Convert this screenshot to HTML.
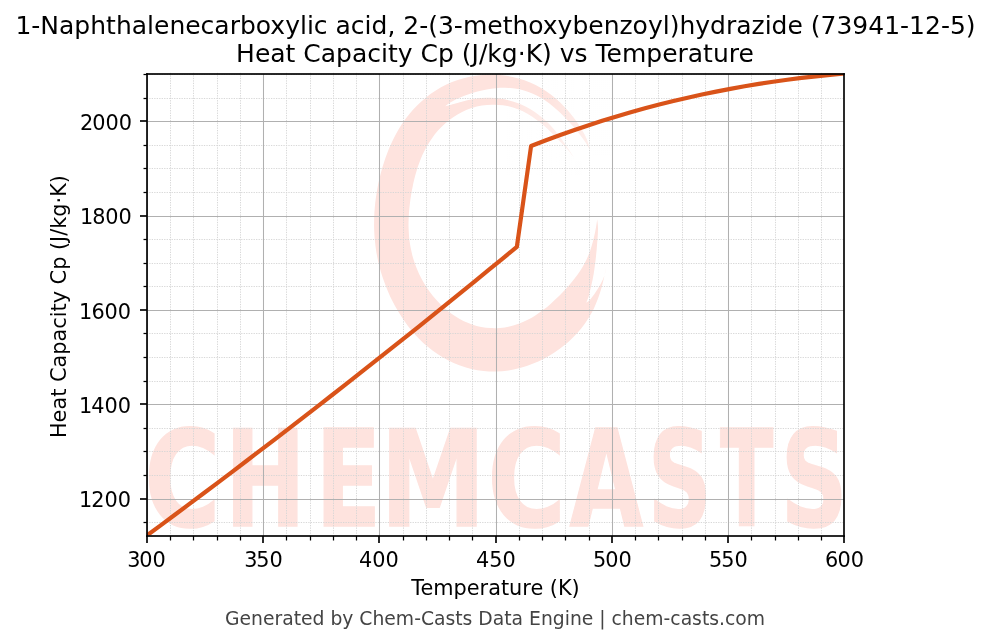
<!DOCTYPE html>
<html lang="en"><head><meta charset="utf-8">
<title>1-Naphthalenecarboxylic acid, 2-(3-methoxybenzoyl)hydrazide (73941-12-5) - Heat Capacity Cp vs Temperature</title>
<style>
html,body{margin:0;padding:0;background:#fff;}
body{width:991px;height:644px;overflow:hidden;}
svg{display:block;}
text{font-family:"DejaVu Sans","Liberation Sans",sans-serif;fill:#000;}
.t12{font-size:25px;}
.t10{font-size:20.8333px;}
.t9{font-size:18.75px;fill:#444;}
.wm{font-family:"DejaVu Sans","Liberation Sans",sans-serif;font-weight:bold;}
</style></head><body>
<svg width="991" height="644" viewBox="0 0 991 644">
<rect x="0" y="0" width="991" height="644" fill="#fff"/>
<clipPath id="axclip"><rect x="146.75" y="73.58" width="697.5" height="462"/></clipPath>
<filter id="soft" x="-5%" y="-5%" width="110%" height="110%"><feGaussianBlur stdDeviation="0.6"/></filter>
<g clip-path="url(#axclip)"><g filter="url(#soft)"><defs><linearGradient id="wg1" gradientUnits="userSpaceOnUse" x1="545" y1="0" x2="592" y2="0"><stop offset="0" stop-color="#fff" stop-opacity="0"/><stop offset="1" stop-color="#fff" stop-opacity="0.45"/></linearGradient><linearGradient id="wg2" gradientUnits="userSpaceOnUse" x1="505" y1="0" x2="575" y2="0"><stop offset="0" stop-color="#fff" stop-opacity="0"/><stop offset="0.35" stop-color="#fff" stop-opacity="0.25"/><stop offset="1" stop-color="#fff" stop-opacity="0.5"/></linearGradient></defs><path d="M590.0 150.0L590.0 150.0C589.5 148.2 588.2 142.7 586.9 139.2C585.5 135.8 583.6 132.6 581.7 129.4C579.8 126.2 577.7 123.1 575.5 120.0C573.2 116.9 570.9 113.9 568.3 110.9C565.8 108.0 563.1 105.1 560.2 102.4C557.3 99.7 554.3 97.1 551.1 94.7C547.9 92.3 544.5 90.1 541.0 88.0C537.5 86.0 533.8 84.2 530.1 82.6C526.4 81.0 522.5 79.6 518.6 78.5C514.6 77.4 510.6 76.5 506.5 75.8C502.5 75.2 498.4 74.8 494.3 74.6C490.2 74.5 486.0 74.6 481.9 74.9C477.8 75.2 473.7 75.8 469.7 76.7C465.7 77.5 461.7 78.6 457.8 79.9C453.9 81.2 450.1 82.7 446.4 84.5C442.8 86.2 439.2 88.2 435.8 90.4C432.4 92.5 429.1 94.9 426.0 97.4C422.8 99.9 419.9 102.6 417.1 105.4C414.3 108.2 411.6 111.2 409.2 114.2C406.7 117.2 404.4 120.4 402.3 123.5C400.2 126.7 398.2 130.0 396.4 133.3C394.6 136.5 392.9 139.9 391.4 143.2C389.8 146.5 388.4 149.9 387.2 153.2C385.9 156.6 384.7 159.9 383.7 163.3C382.6 166.6 381.6 169.9 380.8 173.3C379.9 176.6 379.1 179.9 378.4 183.2C377.7 186.5 377.1 189.8 376.6 193.1C376.1 196.4 375.6 199.7 375.2 203.0C374.9 206.3 374.6 209.5 374.4 212.8C374.2 216.1 374.1 219.4 374.1 222.7C374.0 226.0 374.1 229.3 374.3 232.6C374.4 235.9 374.7 239.2 375.1 242.5C375.4 245.8 375.9 249.1 376.4 252.4C377.0 255.7 377.7 259.0 378.4 262.3C379.2 265.6 380.1 268.9 381.0 272.2C382.0 275.5 383.1 278.8 384.3 282.1C385.5 285.4 386.8 288.7 388.2 291.9C389.6 295.2 391.1 298.4 392.8 301.7C394.4 304.9 396.2 308.1 398.1 311.3C400.0 314.5 402.0 317.7 404.2 320.8C406.4 323.9 408.7 327.0 411.1 329.9C413.6 332.9 416.2 335.9 419.0 338.7C421.8 341.5 424.7 344.2 427.8 346.8C430.8 349.4 434.1 351.8 437.5 354.1C440.8 356.3 444.4 358.5 448.0 360.3C451.7 362.2 455.5 363.9 459.3 365.3C463.2 366.8 467.2 368.0 471.3 368.9C475.3 369.9 479.4 370.6 483.6 371.0C487.7 371.4 491.9 371.6 496.1 371.5C500.3 371.4 504.4 371.0 508.6 370.4C512.7 369.8 516.8 368.9 520.8 367.8C524.8 366.7 528.8 365.4 532.6 363.8C536.4 362.3 540.2 360.6 543.9 358.7C547.5 356.8 551.0 354.7 554.4 352.5C557.8 350.2 561.1 347.8 564.3 345.3C567.4 342.7 570.4 340.0 573.2 337.2C576.0 334.4 578.7 331.4 581.2 328.4C583.7 325.3 586.0 322.1 588.1 318.8C590.2 315.5 592.1 312.1 593.8 308.7C595.4 305.2 596.9 301.6 598.2 298.1C599.5 294.5 600.6 290.9 601.6 287.4C602.6 283.8 603.4 280.3 604.2 276.8C605.0 273.3 606.0 268.1 606.4 266.4L606.4 266.4C606.0 268.1 605.4 273.1 604.0 276.8C602.6 280.5 600.2 284.9 598.0 288.6C595.8 292.3 592.7 296.5 590.7 298.9C588.8 301.2 587.0 302.1 586.3 302.7L586.3 302.7C586.8 301.3 588.0 299.3 589.2 294.5C590.4 289.7 592.5 281.2 593.7 273.8C594.9 266.4 595.9 257.6 596.6 250.2C597.3 242.8 597.9 234.7 598.0 229.5C598.1 224.3 597.3 220.9 597.2 219.2L597.2 219.2C597.0 220.8 596.4 225.5 595.8 228.5C595.3 231.6 594.6 234.6 593.9 237.6C593.2 240.6 592.4 243.6 591.5 246.5C590.6 249.5 589.6 252.4 588.4 255.2C587.3 258.0 585.9 260.7 584.5 263.4C583.1 266.1 581.5 268.7 579.9 271.2C578.2 273.7 576.4 276.1 574.6 278.5C572.8 280.9 570.9 283.1 568.9 285.4C567.0 287.6 565.0 289.8 562.9 292.0C560.9 294.1 558.8 296.2 556.6 298.3C554.5 300.4 552.3 302.4 550.0 304.4C547.7 306.3 545.3 308.3 542.9 310.1C540.5 312.0 537.9 313.8 535.3 315.4C532.7 317.1 530.0 318.6 527.2 320.0C524.4 321.4 521.5 322.7 518.6 323.8C515.6 324.9 512.6 325.8 509.5 326.5C506.4 327.2 503.3 327.7 500.1 327.9C497.0 328.2 493.8 328.2 490.6 328.1C487.5 327.9 484.3 327.5 481.2 326.9C478.1 326.3 475.1 325.5 472.1 324.4C469.1 323.4 466.2 322.2 463.4 320.9C460.6 319.5 457.9 318.0 455.3 316.3C452.7 314.7 450.2 312.9 447.9 311.0C445.5 309.1 443.2 307.1 441.1 305.0C439.0 303.0 437.0 300.8 435.1 298.6C433.2 296.4 431.4 294.1 429.7 291.8C428.0 289.5 426.4 287.1 425.0 284.8C423.5 282.4 422.2 280.0 420.9 277.5C419.7 275.1 418.5 272.6 417.5 270.2C416.4 267.7 415.5 265.2 414.6 262.7C413.7 260.2 413.0 257.7 412.3 255.2C411.7 252.7 411.1 250.2 410.6 247.6C410.1 245.1 409.8 242.6 409.4 240.1C409.1 237.6 408.9 235.1 408.8 232.6C408.6 230.1 408.6 227.6 408.5 225.1C408.5 222.6 408.6 220.1 408.7 217.6C408.8 215.1 409.0 212.6 409.2 210.1C409.4 207.7 409.7 205.2 410.0 202.7C410.3 200.1 410.7 197.6 411.1 195.1C411.5 192.5 411.9 190.0 412.5 187.4C413.0 184.8 413.5 182.1 414.2 179.5C414.8 176.8 415.6 174.1 416.4 171.4C417.2 168.7 418.1 165.9 419.1 163.2C420.1 160.4 421.3 157.6 422.5 154.8C423.8 152.1 425.2 149.3 426.7 146.5C428.3 143.8 430.0 141.0 431.9 138.4C433.8 135.7 435.8 133.1 438.0 130.6C440.2 128.2 442.6 125.8 445.1 123.5C447.6 121.3 450.3 119.1 453.2 117.2C456.0 115.3 459.0 113.5 462.1 112.0C465.2 110.5 468.4 109.2 471.7 108.1C475.0 107.0 478.5 106.2 481.9 105.6C485.3 105.0 488.9 104.7 492.3 104.7C495.8 104.6 499.4 104.8 502.8 105.3C506.3 105.8 509.7 106.6 513.0 107.6C516.4 108.6 519.6 109.9 522.8 111.3C525.9 112.8 529.0 114.5 531.9 116.4C534.8 118.2 537.5 120.3 540.1 122.4C542.8 124.5 545.3 126.8 547.7 129.0C550.1 131.3 552.4 133.6 554.6 135.9C556.9 138.2 559.1 140.5 561.3 142.8C563.4 145.1 565.7 147.3 567.7 149.6C569.7 152.0 572.5 155.8 573.5 157.0L573.5 157.0C576.2 155.8 587.2 151.2 590.0 150.0Z" fill="#fee3de"/><path d="M444.6 106.6L444.6 106.6C445.8 105.7 449.5 102.9 452.1 101.4C454.7 99.9 457.4 98.7 460.2 97.5C463.0 96.3 465.8 95.2 468.7 94.2C471.6 93.3 474.6 92.4 477.5 91.6C480.5 90.8 483.6 90.1 486.6 89.5C489.7 88.9 492.8 88.5 495.9 88.2C499.0 87.9 502.2 87.7 505.3 87.8C508.5 87.9 511.6 88.1 514.8 88.6C517.9 89.1 521.0 89.7 524.0 90.6C527.0 91.5 530.0 92.5 532.9 93.8C535.8 95.0 538.6 96.5 541.3 98.1C544.0 99.7 546.6 101.5 549.1 103.3C551.6 105.2 554.0 107.2 556.3 109.2C558.6 111.2 560.8 113.4 563.0 115.5C565.1 117.7 567.2 119.9 569.2 122.1C571.2 124.3 573.1 126.6 575.0 128.8C576.9 131.0 578.8 133.3 580.5 135.6C582.3 137.9 584.0 140.2 585.6 142.6C587.2 145.0 589.3 148.8 590.0 150.0L590.0 150.0C590.6 150.8 596.2 153.0 593.5 155.0C590.8 157.0 577.3 161.7 574.0 162.0C570.7 162.3 573.6 157.8 573.5 157.0L573.5 157.0C572.8 155.9 570.6 152.5 569.2 150.3C567.7 148.0 566.2 145.7 564.6 143.4C563.0 141.2 561.5 138.8 559.8 136.5C558.1 134.3 556.3 132.0 554.4 129.7C552.5 127.5 550.5 125.3 548.4 123.3C546.3 121.2 544.1 119.1 541.7 117.2C539.4 115.3 537.0 113.5 534.4 111.8C531.9 110.1 529.2 108.5 526.5 107.1C523.8 105.7 520.9 104.4 518.1 103.3C515.2 102.1 512.2 101.2 509.2 100.4C506.2 99.6 503.1 99.0 500.0 98.5C496.9 98.1 493.7 97.8 490.6 97.7C487.5 97.7 484.3 97.8 481.2 98.0C478.1 98.3 475.0 98.8 471.9 99.3C468.8 99.9 465.7 100.7 462.7 101.4C459.7 102.2 456.7 103.2 453.7 104.1C450.7 104.9 446.1 106.2 444.6 106.6Z" fill="#fff"/><path d="M504.1 93.5L514.0 95.0L523.9 98.3L533.8 103.1L543.8 109.3L553.7 117.8L563.6 129.6L573.5 142.1L582.0 154.0L612 156L612 60L495 60Z" fill="url(#wg1)"/><path d="M504.1 93.5L514.0 95.0L523.9 98.3L533.8 103.1L543.8 109.3L553.7 117.8L563.6 129.6L573.5 142.1L582.0 154.0L582 175L495 175Z" fill="url(#wg2)"/><text class="wm" y="526.45" style="font-size:133.56px;fill:#fee3de;stroke:#fee3de;stroke-width:1.5px"><tspan x="144.35" textLength="76.37" lengthAdjust="spacingAndGlyphs">C</tspan><tspan x="224.69" textLength="81.16" lengthAdjust="spacingAndGlyphs">H</tspan><tspan x="315.26" textLength="66.09" lengthAdjust="spacingAndGlyphs">E</tspan><tspan x="379.96" textLength="105.87" lengthAdjust="spacingAndGlyphs">M</tspan><tspan x="487.35" textLength="78.73" lengthAdjust="spacingAndGlyphs">C</tspan><tspan x="569.47" textLength="73.65" lengthAdjust="spacingAndGlyphs">A</tspan><tspan x="647.72" textLength="64.27" lengthAdjust="spacingAndGlyphs">S</tspan><tspan x="719.95" textLength="53.26" lengthAdjust="spacingAndGlyphs">T</tspan><tspan x="780.40" textLength="67.27" lengthAdjust="spacingAndGlyphs">S</tspan></text></g></g>
<g fill="none" stroke="#d5d5d5" stroke-width="0.9375" stroke-dasharray="1.3 1.1844">
<path d="M170.5 72.84V536"/>
<path d="M193.5 72.84V536"/>
<path d="M217.5 72.84V536"/>
<path d="M240.5 72.84V536"/>
<path d="M286.5 72.84V536"/>
<path d="M310.5 72.84V536"/>
<path d="M333.5 72.84V536"/>
<path d="M356.5 72.84V536"/>
<path d="M403.5 72.84V536"/>
<path d="M426.5 72.84V536"/>
<path d="M449.5 72.84V536"/>
<path d="M472.5 72.84V536"/>
<path d="M519.5 72.84V536"/>
<path d="M542.5 72.84V536"/>
<path d="M565.5 72.84V536"/>
<path d="M589.5 72.84V536"/>
<path d="M635.5 72.84V536"/>
<path d="M658.5 72.84V536"/>
<path d="M682.5 72.84V536"/>
<path d="M705.5 72.84V536"/>
<path d="M751.5 72.84V536"/>
<path d="M775.5 72.84V536"/>
<path d="M798.5 72.84V536"/>
<path d="M821.5 72.84V536"/>
</g>
<g fill="none" stroke="#d5d5d5" stroke-width="0.9375" stroke-dasharray="1.3 1.1844">
<path d="M146.75 522.5H844.25"/>
<path d="M146.75 475.5H844.25"/>
<path d="M146.75 451.5H844.25"/>
<path d="M146.75 428.5H844.25"/>
<path d="M146.75 381.5H844.25"/>
<path d="M146.75 357.5H844.25"/>
<path d="M146.75 333.5H844.25"/>
<path d="M146.75 286.5H844.25"/>
<path d="M146.75 263.5H844.25"/>
<path d="M146.75 239.5H844.25"/>
<path d="M146.75 192.5H844.25"/>
<path d="M146.75 168.5H844.25"/>
<path d="M146.75 145.5H844.25"/>
<path d="M146.75 98.5H844.25"/>
<path d="M146.75 74.5H844.25"/>
</g>
<g fill="none" stroke="#b0b0b0" stroke-width="1.04">
<path d="M147.5 536V74"/>
<path d="M263.5 536V74"/>
<path d="M379.5 536V74"/>
<path d="M496.5 536V74"/>
<path d="M612.5 536V74"/>
<path d="M728.5 536V74"/>
<path d="M147 499.5H844"/>
<path d="M147 404.5H844"/>
<path d="M147 310.5H844"/>
<path d="M147 216.5H844"/>
<path d="M147 121.5H844"/>
</g>
<polyline clip-path="url(#axclip)" points="146.75,535.58 160.98,525.07 175.22,514.52 189.45,503.91 203.69,493.26 217.92,482.56 232.16,471.82 246.39,461.02 260.63,450.18 274.86,439.29 289.10,428.36 303.33,417.37 317.57,406.34 331.80,395.26 346.04,384.13 360.27,372.95 374.51,361.73 388.74,350.46 402.97,339.14 417.21,327.77 431.44,316.36 445.68,304.90 459.91,293.39 474.15,281.83 488.38,270.22 502.62,258.57 516.85,246.87 531.09,145.98 545.32,140.51 559.56,135.25 573.79,130.22 588.03,125.41 602.26,120.82 616.49,116.44 630.73,112.27 644.96,108.31 659.20,104.57 673.43,101.02 687.67,97.68 701.90,94.54 716.14,91.59 730.37,88.84 744.61,86.29 758.84,83.92 773.08,81.74 787.31,79.75 801.55,77.94 815.78,76.31 830.02,74.86 844.25,73.58" fill="none" stroke="#d95319" stroke-width="4.1667" stroke-linejoin="round" stroke-linecap="square"/>
<g fill="none" stroke="#000" stroke-width="1.6667">
<path d="M147 536V543"/>
<path d="M263 536V543"/>
<path d="M379 536V543"/>
<path d="M496 536V543"/>
<path d="M612 536V543"/>
<path d="M728 536V543"/>
<path d="M844 536V543"/>
<path d="M147 499H140"/>
<path d="M147 404H140"/>
<path d="M147 310H140"/>
<path d="M147 216H140"/>
<path d="M147 121H140"/>
</g>
<g fill="none" stroke="#000" stroke-width="1.25">
<path d="M170.5 536V540.5"/>
<path d="M193.5 536V540.5"/>
<path d="M217.5 536V540.5"/>
<path d="M240.5 536V540.5"/>
<path d="M286.5 536V540.5"/>
<path d="M310.5 536V540.5"/>
<path d="M333.5 536V540.5"/>
<path d="M356.5 536V540.5"/>
<path d="M403.5 536V540.5"/>
<path d="M426.5 536V540.5"/>
<path d="M449.5 536V540.5"/>
<path d="M472.5 536V540.5"/>
<path d="M519.5 536V540.5"/>
<path d="M542.5 536V540.5"/>
<path d="M565.5 536V540.5"/>
<path d="M589.5 536V540.5"/>
<path d="M635.5 536V540.5"/>
<path d="M658.5 536V540.5"/>
<path d="M682.5 536V540.5"/>
<path d="M705.5 536V540.5"/>
<path d="M751.5 536V540.5"/>
<path d="M775.5 536V540.5"/>
<path d="M798.5 536V540.5"/>
<path d="M821.5 536V540.5"/>
<path d="M147 522.5H143.5"/>
<path d="M147 475.5H143.5"/>
<path d="M147 451.5H143.5"/>
<path d="M147 428.5H143.5"/>
<path d="M147 381.5H143.5"/>
<path d="M147 357.5H143.5"/>
<path d="M147 333.5H143.5"/>
<path d="M147 286.5H143.5"/>
<path d="M147 263.5H143.5"/>
<path d="M147 239.5H143.5"/>
<path d="M147 192.5H143.5"/>
<path d="M147 168.5H143.5"/>
<path d="M147 145.5H143.5"/>
<path d="M147 98.5H143.5"/>
<path d="M147 74.5H143.5"/>
</g>
<g fill="#000"><rect x="146.1667" y="73.1667" width="1.6667" height="463.6667"/><rect x="843.1667" y="73.1667" width="1.6667" height="463.6667"/><rect x="146.1667" y="535.1667" width="698.6667" height="1.6667"/><rect x="146.1667" y="73.1667" width="698.6667" height="1.6667"/></g>
<text class="t12" x="495.5" y="33.5" text-anchor="middle">1-Naphthalenecarboxylic acid, 2-(3-methoxybenzoyl)hydrazide (73941-12-5)</text>
<text class="t12" x="495.0" y="61.5" text-anchor="middle">Heat Capacity Cp (J/kg·K) vs Temperature</text>
<text class="t10" x="127.13 139.14 152.4" y="566.65">300</text>
<text class="t10" x="244.13 256.29 269.4" y="566.65">350</text>
<text class="t10" x="358.94 372.14 385.41" y="566.65">400</text>
<text class="t10" x="475.94 489.28 502.4" y="566.65">450</text>
<text class="t10" x="593.01 605.14 618.4" y="566.65">500</text>
<text class="t10" x="709.01 721.29 734.4" y="566.65">550</text>
<text class="t10" x="825.08 837.38 850.67" y="566.65">600</text>
<text class="t10" x="79.11 91.37 104.47 117.72" y="507.2">1200</text>
<text class="t10" x="79.11 91.23 104.47 117.72" y="412.85">1400</text>
<text class="t10" x="79.11 91.43 104.48 117.72" y="318.51">1600</text>
<text class="t10" x="80.11 92.23 105.21 118.48" y="224.17">1800</text>
<text class="t10" x="80.08 92.21 105.47 118.72" y="129.82">2000</text>
<text class="t10" x="495.5" y="594.7" text-anchor="middle">Temperature (K)</text>
<text class="t10" transform="translate(65.7 306.55) rotate(-90)" text-anchor="middle">Heat Capacity Cp (J/kg·K)</text>
<text class="t9" x="495.0" y="624.7" text-anchor="middle">Generated by Chem-Casts Data Engine | chem-casts.com</text>
</svg>
</body></html>
